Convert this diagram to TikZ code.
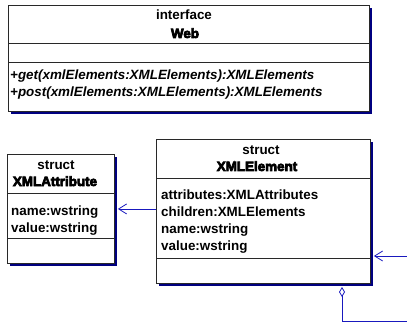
\documentclass[tikz,border=0pt]{standalone}
\usepackage{fontspec}
\setmainfont{Liberation Sans}
\newcommand\heavytext[1]{\special{pdf:literal direct 2 Tr 0.7 w}#1\special{pdf:literal direct 0 Tr 0.4 w}}
\usetikzlibrary{arrows.meta,shadows}
\definecolor{shadowcol}{RGB}{0,0,128}
\definecolor{conncol}{RGB}{25,25,190}
\definecolor{bordercol}{RGB}{40,40,40}
\begin{document}
\begin{tikzpicture}[x=1pt,y=-1pt,
  umlbox/.style={draw=bordercol, fill=white, line width=0.9pt, inner sep=0pt, anchor=north west,
    drop shadow={shadow xshift=3pt, shadow yshift=-3pt, fill=shadowcol, opacity=1}},
  sepline/.style={draw=bordercol, line width=0.9pt},
  txt/.style={inner sep=0pt, font=\fontsize{13.4}{16}\selectfont\bfseries},
  itxt/.style={inner sep=0pt, font=\fontsize{13.4}{16}\selectfont\bfseries\itshape},
  hvy/.style={inner sep=0pt, font=\fontsize{13.4}{16}\selectfont\bfseries},
  conn/.style={draw=conncol, line width=0.8pt},
  barb/.style={-{Straight Barb[length=8pt,width=10pt,line width=0.8pt]}}
]
\useasboundingbox (0,0) rectangle (407,326);

% Web interface
\node[umlbox, minimum width=361pt, minimum height=106pt] (web) at (8,5) {};
\draw[sepline] (8,43) -- (369,43);
\draw[sepline] (8,62) -- (369,62);
\node[txt, anchor=base] (webst) at (184,20) {interface};
\node[hvy, anchor=base] (webname) at (185,38) {\heavytext{Web}};
\node[itxt, anchor=base west] (m1) at (10,80) {+get(xmlElements:XMLElements):XMLElements};
\node[itxt, anchor=base west] (m2) at (10,97) {+post(xmlElements:XMLElements):XMLElements};

% XMLAttribute
\node[umlbox, minimum width=107pt, minimum height=109pt] (attr) at (7,154) {};
\draw[sepline] (7,193) -- (114,193);
\draw[sepline] (7,238) -- (114,238);
\node[txt, anchor=base] (attrst) at (56,169) {struct};
\node[hvy, anchor=base] (attrname) at (55,186) {\heavytext{XMLAttribute}};
\node[txt, anchor=base west] (a1) at (11,215) {name:wstring};
\node[txt, anchor=base west] (a2) at (11,232) {value:wstring};

% XMLElement
\node[umlbox, minimum width=214pt, minimum height=144pt] (elem) at (156,139) {};
\draw[sepline] (156,178) -- (370,178);
\draw[sepline] (156,258) -- (370,258);
\node[txt, anchor=base] (elemst) at (261,154) {struct};
\node[hvy, anchor=base] (elemname) at (257,171) {\heavytext{XMLElement}};
\node[txt, anchor=base west] (e1) at (161,199) {attributes:XMLAttributes};
\node[txt, anchor=base west] (e2) at (161,216) {children:XMLElements};
\node[txt, anchor=base west] (e3) at (161,233) {name:wstring};
\node[txt, anchor=base west] (e4) at (161,250) {value:wstring};

% connectors
\coordinate (attrE) at ([xshift=3pt]attr.east);
\draw[conn, barb] (elem.west |- attrE) -- (attrE);

\coordinate (elemE) at ([xshift=3pt]elem.east);
\coordinate (rin) at (407,256);
\draw[conn, barb] (rin) -- (rin -| elemE);

\coordinate (dtop) at (342,287);
\coordinate (dend) at (407,321);
\draw[conn, {Diamond[open,length=10pt,width=6pt,line width=0.8pt]}-] (dtop) |- (dend);
\end{tikzpicture}
\end{document}
